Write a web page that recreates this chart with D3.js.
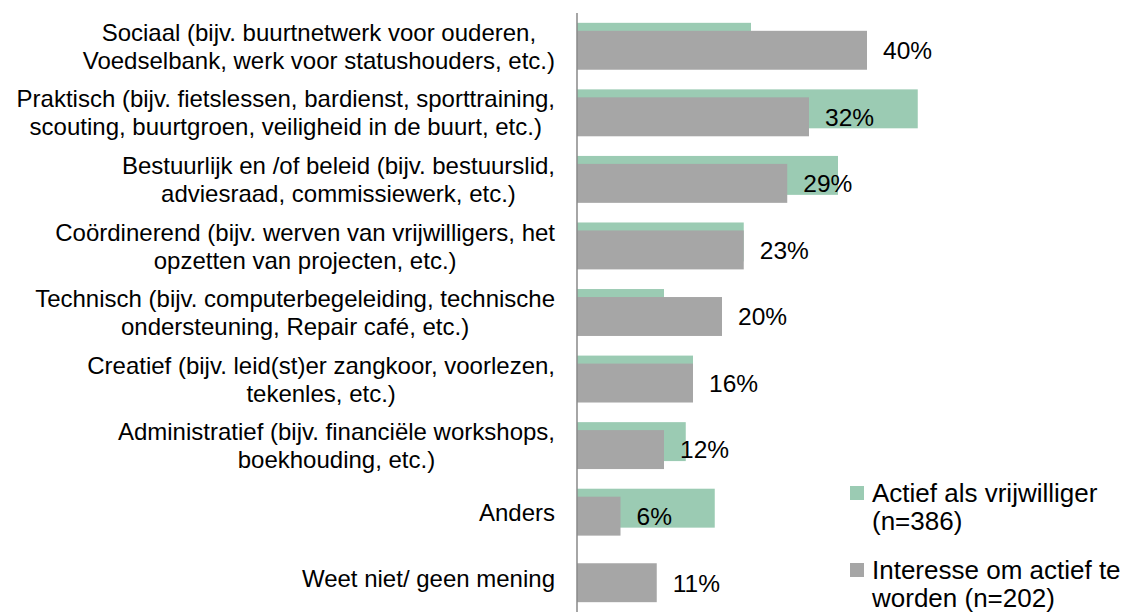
<!DOCTYPE html>
<html>
<head>
<meta charset="utf-8">
<script src="https://cdn.jsdelivr.net/npm/d3@7"></script>
<style>
  html, body { margin: 0; padding: 0; background: #fff; }
  svg { display: block; font-family: Arial, "Liberation Sans", sans-serif; }
</style>
</head>
<body>
<svg id="chart" width="1128" height="612"></svg>
<script>
// ---- data ----
const categories = [
  "Sociaal (bijv. buurtnetwerk voor ouderen,\nVoedselbank, werk voor statushouders, etc.)",
  "Praktisch (bijv. fietslessen, bardienst, sporttraining,\nscouting, buurtgroen, veiligheid in de buurt, etc.)",
  "Bestuurlijk en /of beleid (bijv. bestuurslid,\nadviesraad, commissiewerk, etc.)",
  "Coördinerend (bijv. werven van vrijwilligers, het\nopzetten van projecten, etc.)",
  "Technisch (bijv. computerbegeleiding, technische\nondersteuning, Repair café, etc.)",
  "Creatief (bijv. leid(st)er zangkoor, voorlezen,\ntekenles, etc.)",
  "Administratief (bijv. financiële workshops,\nboekhouding, etc.)",
  "Anders",
  "Weet niet/ geen mening"
];
const actief = [24, 47, 36, 23, 12, 16, 15, 19, 0];
const interesse = [40, 32, 29, 23, 20, 16, 12, 6, 11];
const seriesNames = ["Actief als vrijwilliger\n(n=386)", "Interesse om actief te\nworden (n=202)"];
const colors = ["#9BCBB3", "#A6A6A6"];

// ---- layout ----
const svg = d3.select("#chart");
const axisX = 577;
const x = d3.scaleLinear().domain([0, 50]).range([axisX, axisX + 362.5]);
const y = d3.scaleBand().domain(categories).range([13, 612])
  .paddingInner(0.295).paddingOuter(0.1475);
const bw = y.bandwidth();
const barH = bw * 39 / 47;
const offset = bw * 8 / 47;
const labelFont = 24;
const valueFont = 24.5;
const legendFont = 26;

// green bars (behind)
svg.append("g").selectAll("rect").data(categories).join("rect")
  .attr("x", x(0))
  .attr("y", d => y(d))
  .attr("width", (d, i) => x(actief[i]) - x(0))
  .attr("height", barH)
  .attr("fill", colors[0]);

// gray bars (front)
svg.append("g").selectAll("rect").data(categories).join("rect")
  .attr("x", x(0))
  .attr("y", d => y(d) + offset)
  .attr("width", (d, i) => x(interesse[i]) - x(0))
  .attr("height", barH)
  .attr("fill", colors[1]);

// data labels
svg.append("g").selectAll("text").data(categories).join("text")
  .attr("x", (d, i) => x(interesse[i]) + 16)
  .attr("y", d => y(d) + offset + barH / 2)
  .attr("dy", "0.36em")
  .attr("font-size", valueFont)
  .attr("fill", "#000")
  .text((d, i) => interesse[i] + "%");

// axis line
svg.append("line")
  .attr("x1", axisX).attr("x2", axisX)
  .attr("y1", 13).attr("y2", 612)
  .attr("stroke", "#898989").attr("stroke-width", 1.5);

// category labels: block right-aligned, lines centered within block
const lineH = 28;
const labelRight = axisX - 22;
const lg = svg.append("g");
categories.forEach(cat => {
  const lines = cat.split("\n");
  const g = lg.append("g");
  const texts = lines.map(ln => g.append("text")
    .attr("font-size", labelFont).attr("fill", "#000")
    .attr("text-anchor", "middle")
    .text(ln));
  const widths = texts.map(t => t.node().getComputedTextLength());
  const blockW = d3.max(widths);
  const cx = labelRight - blockW / 2;
  const cy = y(cat) + bw / 2;
  const n = lines.length;
  texts.forEach((t, k) => {
    t.attr("x", cx)
     .attr("y", cy + (k - (n - 1) / 2) * lineH)
     .attr("dy", "0.36em");
  });
});

// legend
const legend = svg.append("g");
const legendY = [493, 570];
seriesNames.forEach((name, i) => {
  const ly = legendY[i];
  legend.append("rect")
    .attr("x", 850).attr("y", ly - 7)
    .attr("width", 14).attr("height", 14)
    .attr("fill", colors[i]);
  name.split("\n").forEach((ln, k) => {
    legend.append("text")
      .attr("x", 872).attr("y", ly + k * 28)
      .attr("dy", "0.36em")
      .attr("font-size", legendFont).attr("fill", "#000")
      .text(ln);
  });
});
</script>
</body>
</html>
